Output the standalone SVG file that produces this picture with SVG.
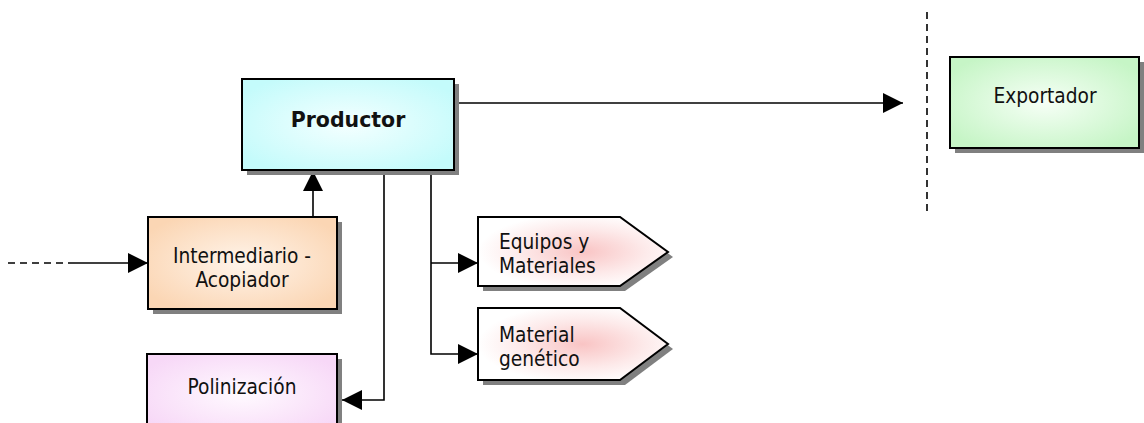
<svg xmlns="http://www.w3.org/2000/svg" width="1144" height="423" viewBox="0 0 1144 423">
  <defs>
    <radialGradient id="gCyan" cx="0.5" cy="0.5" r="0.6">
      <stop offset="0" stop-color="#f4ffff"/>
      <stop offset="1" stop-color="#c4fbfb"/>
    </radialGradient>
    <radialGradient id="gPeach" cx="0.5" cy="0.5" r="0.6">
      <stop offset="0" stop-color="#fff4ea"/>
      <stop offset="1" stop-color="#fbd6b4"/>
    </radialGradient>
    <radialGradient id="gPink" cx="0.5" cy="0.5" r="0.6">
      <stop offset="0" stop-color="#fffaff"/>
      <stop offset="1" stop-color="#f7d8f7"/>
    </radialGradient>
    <radialGradient id="gGreen" cx="0.5" cy="0.5" r="0.6">
      <stop offset="0" stop-color="#f6fff6"/>
      <stop offset="1" stop-color="#c6f5c6"/>
    </radialGradient>
    <radialGradient id="gRose" cx="0.55" cy="0.5" r="0.55">
      <stop offset="0" stop-color="#f9c4c4"/>
      <stop offset="0.6" stop-color="#fdeaea"/>
      <stop offset="1" stop-color="#ffffff"/>
    </radialGradient>
    <marker id="arrow" markerUnits="userSpaceOnUse" markerWidth="20" markerHeight="20" refX="20" refY="10" orient="auto" viewBox="0 0 20 20">
      <path d="M0,0 L20,10 L0,20 Z" fill="#000"/>
    </marker>
  </defs>
  <style>
    .shadow { fill: #808080; }
    .box { stroke: #000; stroke-width: 2; }
    .txt { font-family: "DejaVu Sans Condensed", "DejaVu Sans", sans-serif; font-size: 20.7px; fill: #111; }
    .bold { font-family: "DejaVu Sans", sans-serif; font-size: 20.5px; font-weight: bold; fill: #111; }
    .line { fill: none; stroke: #000; stroke-width: 1.6; }
    .dash { fill: none; stroke: #000; stroke-width: 1.6; stroke-dasharray: 7 5; }
  </style>

  <rect width="1144" height="423" fill="#fff"/>

  <!-- connectors -->
  <g id="connectors">
    <line class="dash" x1="927" y1="12" x2="927" y2="216"/>
    <line class="dash" x1="8" y1="263" x2="75" y2="263"/>
    <path class="line" d="M75,263 H148" marker-end="url(#arrow)"/>
    <path class="line" d="M313,217 V171" marker-end="url(#arrow)"/>
    <path class="line" d="M454,103 H903" marker-end="url(#arrow)"/>
    <path class="line" d="M384,170 V400 H342" marker-end="url(#arrow)"/>
    <path class="line" d="M431,170 V354 H478" marker-end="url(#arrow)"/>
    <path class="line" d="M431,263 H478" marker-end="url(#arrow)"/>
  </g>

  <g id="productor">
    <rect class="shadow" x="247" y="84" width="212" height="91"/>
    <rect class="box" x="242" y="79" width="212" height="91" fill="url(#gCyan)"/>
    <text class="bold" x="348" y="127" text-anchor="middle">Productor</text>
  </g>

  <g id="intermediario">
    <rect class="shadow" x="153" y="222" width="189" height="92"/>
    <rect class="box" x="148" y="217" width="189" height="92" fill="url(#gPeach)"/>
    <text class="txt" x="242" y="263" text-anchor="middle">Intermediario -</text>
    <text class="txt" x="242" y="287" text-anchor="middle">Acopiador</text>
  </g>

  <g id="polinizacion">
    <rect class="shadow" x="152" y="359" width="190" height="80"/>
    <rect class="box" x="147" y="354" width="190" height="80" fill="url(#gPink)"/>
    <text class="txt" x="242" y="394" text-anchor="middle">Polinización</text>
  </g>

  <g id="equipos">
    <polygon class="shadow" points="483,222 625,222 673,257 625,291 483,291"/>
    <polygon class="box" points="478,217 620,217 668,252 620,286 478,286" fill="url(#gRose)"/>
    <text class="txt" x="499" y="249">Equipos y</text>
    <text class="txt" x="499" y="273">Materiales</text>
  </g>

  <g id="material">
    <polygon class="shadow" points="483,313 625,313 673,349 625,385 483,385"/>
    <polygon class="box" points="478,308 620,308 668,344 620,380 478,380" fill="url(#gRose)"/>
    <text class="txt" x="499" y="342">Material</text>
    <text class="txt" x="499" y="366">genético</text>
  </g>

  <g id="exportador">
    <rect class="shadow" x="955" y="62" width="189" height="91"/>
    <rect class="box" x="950" y="57" width="189" height="91" fill="url(#gGreen)"/>
    <text class="txt" x="1045" y="103" text-anchor="middle">Exportador</text>
  </g>
</svg>
